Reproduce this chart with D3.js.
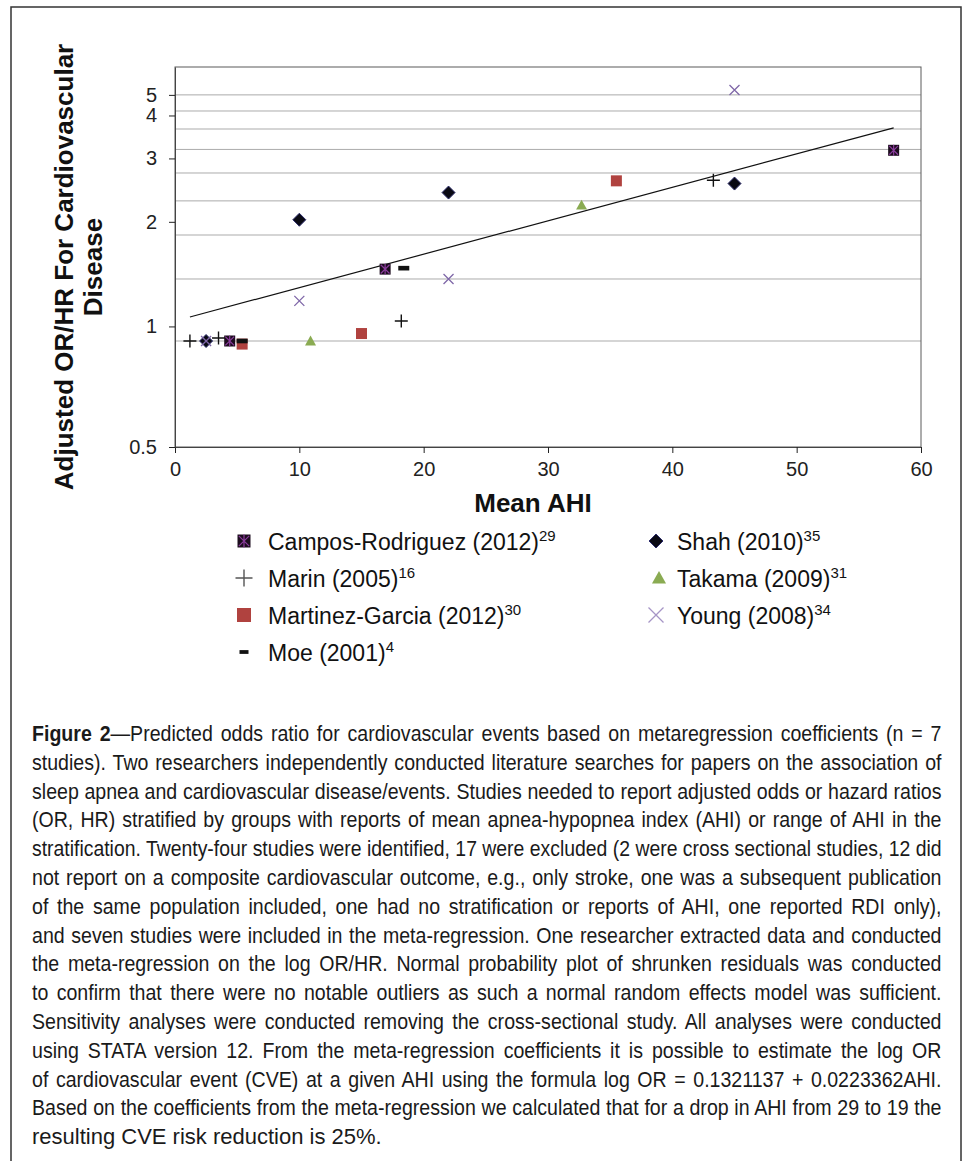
<!DOCTYPE html>
<html>
<head>
<meta charset="utf-8">
<script src="https://cdn.jsdelivr.net/npm/d3@7"></script>
<style>
  html, body { margin: 0; padding: 0; background: #fff; }
  svg { display: block; font-family: "Liberation Sans", Arial, sans-serif; }
</style>
</head>
<body>
<div id="app"></div>
<script>
// series: [mean AHI, adjusted OR/HR]
const camposAHI = [4.4, 16.9, 57.8];
const camposOR = [1.0, 1.6, 3.48];
const marinAHI = [1.2, 3.5, 18.2, 43.3];
const marinOR = [1.0, 1.02, 1.14, 2.86];
const martinezAHI = [5.4, 15.0, 35.5];
const martinezOR = [0.98, 1.05, 2.85];
const moeAHI = [5.4, 18.4];
const moeOR = [1.0, 1.61];
const shahAHI = [2.5, 10.0, 22.0, 45.0];
const shahOR = [1.0, 2.21, 2.64, 2.8];
const takamaAHI = [10.9, 32.7];
const takamaOR = [1.0, 2.43];
const youngAHI = [2.5, 10.0, 22.0, 45.0];
const youngOR = [1.0, 1.3, 1.5, 5.16];

const trendAHI = [1.2, 57.8];
const trendOR = [1.17, 4.03];

const studyNames = [
  "Campos-Rodriguez (2012)", "Marin (2005)", "Martinez-Garcia (2012)", "Moe (2001)",
  "Shah (2010)", "Takama (2009)", "Young (2008)"
];
const studyRefs = ["29", "16", "30", "4", "35", "31", "34"];
const studyKinds = ["campos", "marin", "martinez", "moe", "shah", "takama", "young"];

const xTicks = [0, 10, 20, 30, 40, 50, 60];
const yTickValues = [0.5, 1.1, 2.18, 3.3, 4.37, 5];
const yTickLabels = ["0.5", "1", "2", "3", "4", "5"];
const yGridValues = [1, 1.5, 2, 2.5, 3, 3.5, 4, 4.5, 5];

const captionLines = [
  "—Predicted odds ratio for cardiovascular events based on metaregression coefficients (n = 7",
  "studies). Two researchers independently conducted literature searches for papers on the association of",
  "sleep apnea and cardiovascular disease/events. Studies needed to report adjusted odds or hazard ratios",
  "(OR, HR) stratified by groups with reports of mean apnea-hypopnea index (AHI) or range of AHI in the",
  "stratification. Twenty-four studies were identified, 17 were excluded (2 were cross sectional studies, 12 did",
  "not report on a composite cardiovascular outcome, e.g., only stroke, one was a subsequent publication",
  "of the same population included, one had no stratification or reports of AHI, one reported RDI only),",
  "and seven studies were included in the meta-regression. One researcher extracted data and conducted",
  "the meta-regression on the log OR/HR. Normal probability plot of shrunken residuals was conducted",
  "to confirm that there were no notable outliers as such a normal random effects model was sufficient.",
  "Sensitivity analyses were conducted removing the cross-sectional study. All analyses were conducted",
  "using STATA version 12. From the meta-regression coefficients it is possible to estimate the log OR",
  "of cardiovascular event (CVE) at a given AHI using the formula log OR = 0.1321137 + 0.0223362AHI.",
  "Based on the coefficients from the meta-regression we calculated that for a drop in AHI from 29 to 19 the",
  "resulting CVE risk reduction is 25%."
];

const width = 967;
const height = 1161;
const plot = { left: 175, right: 921, top: 67, bottom: 447 };

const series = [
  [camposAHI, camposOR], [marinAHI, marinOR], [martinezAHI, martinezOR], [moeAHI, moeOR],
  [shahAHI, shahOR], [takamaAHI, takamaOR], [youngAHI, youngOR]
];

const x = d3.scaleLinear().domain([0, 60]).range([plot.left, plot.right]);
const y = d3.scaleLog().domain([0.5, 6]).range([plot.bottom, plot.top]);

const svg = d3
  .select("#app")
  .append("svg")
  .attr("width", width)
  .attr("height", height);

// outer frame
svg
  .append("rect")
  .attr("x", 11)
  .attr("y", 7)
  .attr("width", 950)
  .attr("height", 1170)
  .attr("fill", "none")
  .attr("stroke", "#333")
  .attr("stroke-width", 1.5);

// gridlines
svg
  .append("g")
  .selectAll("line")
  .data(yGridValues)
  .join("line")
  .attr("x1", plot.left)
  .attr("x2", plot.right)
  .attr("y1", (d) => y(d))
  .attr("y2", (d) => y(d))
  .attr("stroke", "#ababab")
  .attr("stroke-width", 1);

// plot border
svg
  .append("rect")
  .attr("x", plot.left)
  .attr("y", plot.top)
  .attr("width", plot.right - plot.left)
  .attr("height", plot.bottom - plot.top)
  .attr("fill", "none")
  .attr("stroke", "#5a5a5a")
  .attr("stroke-width", 1);

const xAxis = svg
  .append("g")
  .attr("transform", `translate(0, ${plot.bottom})`)
  .call(d3.axisBottom(x).tickValues(xTicks).tickSize(6).tickSizeOuter(0).tickPadding(9));

const yAxis = svg
  .append("g")
  .attr("transform", `translate(${plot.left}, 0)`)
  .call(
    d3.axisLeft(y)
      .tickValues(yTickValues)
      .tickFormat((d, i) => yTickLabels[i])
      .tickSize(6)
      .tickSizeOuter(0)
      .tickPadding(12)
  );

[xAxis, yAxis].forEach((ax) => {
  ax.select(".domain").attr("stroke", "#444");
  ax.selectAll(".tick line").attr("stroke", "#222");
  ax.selectAll(".tick text")
    .attr("fill", "#222")
    .style("font-size", "20px")
    .style("font-family", "'Liberation Sans', Arial, sans-serif");
});

// axis titles
svg
  .append("text")
  .attr("x", 533)
  .attr("y", 512)
  .attr("text-anchor", "middle")
  .style("font-size", "26px")
  .style("font-weight", "bold")
  .attr("fill", "#111")
  .text("Mean AHI");

svg
  .append("text")
  .attr("transform", "translate(73, 267) rotate(-90)")
  .attr("text-anchor", "middle")
  .style("font-size", "26px")
  .style("font-weight", "bold")
  .attr("fill", "#111")
  .text("Adjusted OR/HR For Cardiovascular");

svg
  .append("text")
  .attr("transform", "translate(102, 267) rotate(-90)")
  .attr("text-anchor", "middle")
  .style("font-size", "26px")
  .style("font-weight", "bold")
  .attr("fill", "#111")
  .text("Disease");

// markers
function marker(g, kind, s, legend) {
  if (kind === "campos") {
    g.append("rect")
      .attr("x", -s).attr("y", -s)
      .attr("width", 2 * s).attr("height", 2 * s)
      .attr("fill", "#1c0c1e");
    const k = s * 0.8;
    g.append("path")
      .attr("d", `M${-k},${-k}L${k},${k}M${k},${-k}L${-k},${k}M0,${-s}L0,${s}`)
      .attr("stroke", "#8a3c9c")
      .attr("stroke-width", 1.2);
  } else if (kind === "marin") {
    g.append("path")
      .attr("d", `M${-s},0L${s},0M0,${-s}L0,${s}`)
      .attr("stroke", legend ? "#555" : "#111")
      .attr("stroke-width", 1.4);
  } else if (kind === "martinez") {
    g.append("rect")
      .attr("x", -s).attr("y", -s)
      .attr("width", 2 * s).attr("height", 2 * s)
      .attr("fill", "#b0423f");
  } else if (kind === "moe") {
    g.append("rect")
      .attr("x", -s).attr("y", -s * 0.42)
      .attr("width", 2 * s).attr("height", s * 0.84)
      .attr("fill", "#111");
  } else if (kind === "shah") {
    g.append("path")
      .attr("d", `M0,${-s}L${s},0L0,${s}L${-s},0Z`)
      .attr("fill", "#0a0a14")
      .attr("stroke", "#2a2a6a")
      .attr("stroke-width", 1);
  } else if (kind === "takama") {
    g.append("path")
      .attr("d", `M0,${-s}L${s},${s * 0.8}L${-s},${s * 0.8}Z`)
      .attr("fill", "#8aab52");
  } else if (kind === "young") {
    g.append("path")
      .attr("d", `M${-s},${-s}L${s},${s}M${s},${-s}L${-s},${s}`)
      .attr("stroke", legend ? "#a695c6" : "#7f67a8")
      .attr("stroke-width", 1.3);
  }
}

const plotSizes = { campos: 5.5, marin: 6.5, martinez: 5.5, moe: 5.5, shah: 6.5, takama: 5.5, young: 5 };
const legendSizes = { campos: 6.5, marin: 8.5, martinez: 7, moe: 4.5, shah: 7, takama: 7, young: 7.5 };

// trend line
svg
  .append("path")
  .datum(d3.zip(trendAHI, trendOR))
  .attr("d", d3.line().x((d) => x(d[0])).y((d) => y(d[1])))
  .attr("fill", "none")
  .attr("stroke", "#111")
  .attr("stroke-width", 1.2);

series.forEach(([xs, ys], i) => {
  const kind = studyKinds[i];
  svg
    .append("g")
    .selectAll("g")
    .data(d3.zip(xs, ys))
    .join("g")
    .attr("transform", (d) => `translate(${x(d[0])}, ${y(d[1])})`)
    .each(function () {
      marker(d3.select(this), kind, plotSizes[kind], false);
    });
});

// legend
const legendRows = [
  { col: 0, row: 0 }, { col: 0, row: 1 }, { col: 0, row: 2 }, { col: 0, row: 3 },
  { col: 1, row: 0 }, { col: 1, row: 1 }, { col: 1, row: 2 }
];
const legendCols = [{ mx: 244, tx: 268 }, { mx: 656, tx: 677 }];

studyNames.forEach((name, i) => {
  const pos = legendRows[i];
  const col = legendCols[pos.col];
  const cy = 541 + pos.row * 37;
  const kind = studyKinds[i];
  const g = svg.append("g");
  marker(
    g.append("g").attr("transform", `translate(${kind === "takama" ? col.mx + 3 : col.mx}, ${cy})`),
    kind,
    legendSizes[kind],
    true
  );
  const t = g
    .append("text")
    .attr("x", col.tx)
    .attr("y", cy + 8.5)
    .attr("fill", "#111")
    .style("font-size", "23px");
  t.append("tspan").text(name);
  t.append("tspan")
    .attr("dy", -9)
    .style("font-size", "15px")
    .text(studyRefs[i]);
});

// caption: condensed look via horizontal scale, justified with word-spacing
const captionLeft = 32;
const captionWidth = 910;
const condense = 0.89;
const caption = svg.append("g");
captionLines.forEach((line, i) => {
  const t = caption
    .append("text")
    .attr("x", 0)
    .attr("y", 0)
    .attr("fill", "#1a1a1a")
    .style("font-size", "22px");
  if (i === 0) {
    t.append("tspan").style("font-weight", "bold").text("Figure 2");
  }
  t.append("tspan").text(line);
  const baseY = 741 + i * 28.8;
  if (i === captionLines.length - 1) {
    t.attr("transform", `translate(${captionLeft}, ${baseY})`);
    return;
  }
  const w = t.node().getComputedTextLength();
  const spaces = ((i === 0 ? "Figure 2" : "") + line).split(" ").length - 1;
  let s = condense;
  let ws = (captionWidth / s - w) / spaces;
  if (ws < 0) {
    s = captionWidth / w;
    ws = 0;
  }
  t.style("word-spacing", `${ws}px`)
    .attr("transform", `translate(${captionLeft}, ${baseY}) scale(${s}, 1)`);
});
</script>
</body>
</html>
